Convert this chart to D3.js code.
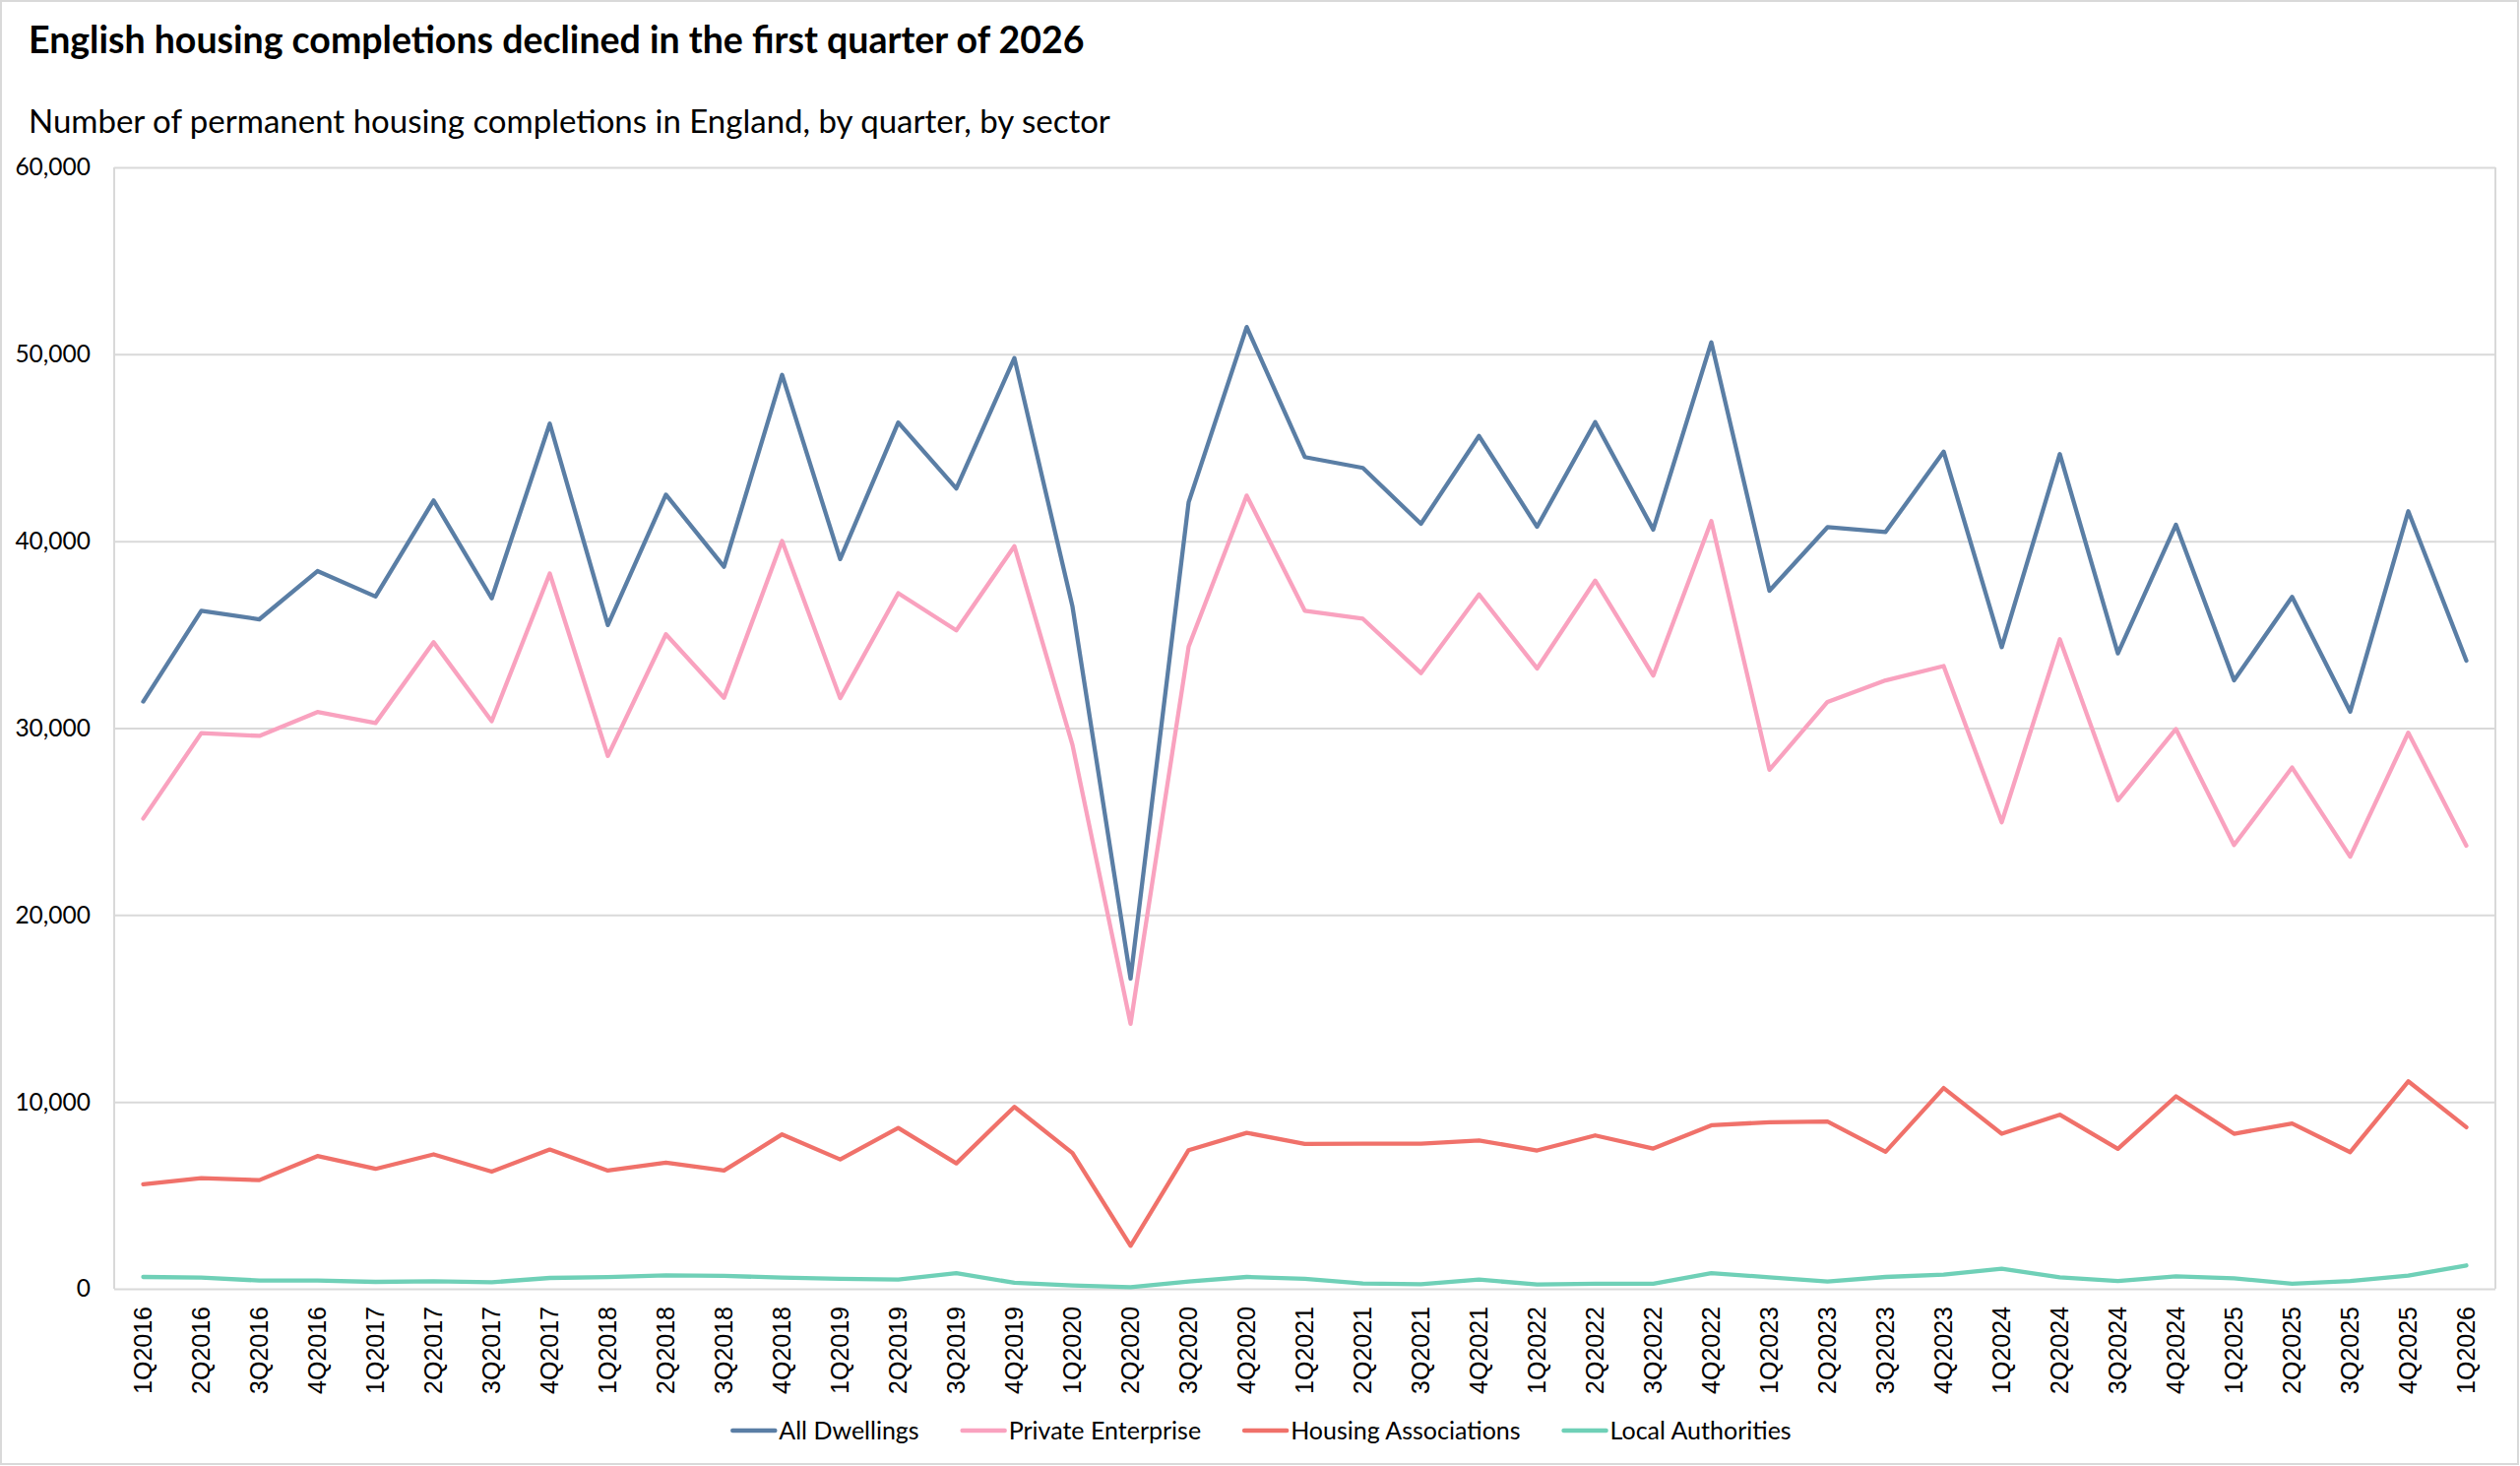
<!DOCTYPE html>
<html>
<head>
<meta charset="utf-8">
<script src="https://cdn.jsdelivr.net/npm/d3@7"></script>
<style>
  body { margin: 0; background: #fff; }
  text { font-family: Lato, "Noto Sans", sans-serif; fill: #000; }
  .x-axis text { font-family: "Liberation Sans", Arial, sans-serif; }
</style>
</head>
<body>
<div class="chart"></div>
<script>
// quarters on the x axis
var quarters = [
  "1Q2016", "2Q2016", "3Q2016", "4Q2016",
  "1Q2017", "2Q2017", "3Q2017", "4Q2017",
  "1Q2018", "2Q2018", "3Q2018", "4Q2018",
  "1Q2019", "2Q2019", "3Q2019", "4Q2019",
  "1Q2020", "2Q2020", "3Q2020", "4Q2020",
  "1Q2021", "2Q2021", "3Q2021", "4Q2021",
  "1Q2022", "2Q2022", "3Q2022", "4Q2022",
  "1Q2023", "2Q2023", "3Q2023", "4Q2023",
  "1Q2024", "2Q2024", "3Q2024", "4Q2024",
  "1Q2025", "2Q2025", "3Q2025", "4Q2025",
  "1Q2026"
];

var allDwellings = [
  31420, 36280, 35820, 38400,
  37040, 42180, 36940, 46290,
  35510, 42490, 38630, 48900,
  39040, 46350, 42820, 49800,
  36500, 16600, 42080, 51460,
  44500, 43920, 40930, 45630,
  40770, 46370, 40620, 50640,
  37350, 40750, 40490, 44790,
  34330, 44660, 34000, 40880,
  32550, 37020, 30880, 41600,
  33610
];

var privateEnterprise = [
  25160, 29730, 29580, 30860,
  30270, 34590, 30370, 38270,
  28510, 35020, 31620, 40010,
  31600, 37220, 35230, 39730,
  29100, 14180, 34360, 42440,
  36280, 35850, 32940, 37150,
  33190, 37890, 32810, 41080,
  27770, 31400, 32550, 33320,
  24960, 34750, 26140, 29950,
  23740, 27890, 23120, 29750,
  23710
];

var housingAssociations = [
  5590, 5920, 5815, 7100,
  6415, 7190, 6270, 7450,
  6325, 6750, 6325, 8260,
  6920, 8610, 6710, 9735,
  7260, 2300, 7415, 8345,
  7750, 7765, 7765, 7940,
  7400, 8205, 7505, 8750,
  8910, 8945, 7330, 10740,
  8295, 9315, 7485, 10300,
  8295, 8840, 7310, 11100,
  8645
];

var localAuthorities = [
  633, 600, 440, 440,
  370, 400, 350, 580,
  630, 720, 690, 600,
  530, 490, 840, 320,
  175, 90, 390, 633,
  530, 280, 245, 490,
  230, 265, 265, 840,
  615, 390, 633, 755,
  1070, 615, 420, 670,
  560, 265, 420, 700,
  1250
];

var seriesNames = ["All Dwellings", "Private Enterprise", "Housing Associations", "Local Authorities"];
var seriesColors = ["#5A7EA5", "#F9A2BF", "#F0716A", "#6FD0B7"];
var yTicks = [0, 10000, 20000, 30000, 40000, 50000, 60000];

var titleText = "English housing completions declined in the first quarter of 2026";
var subtitleText = "Number of permanent housing completions in England, by quarter, by sector";

var svgWidth = 2560;
var svgHeight = 1489;

var margin = {
  top: 170,
  right: 25,
  bottom: 180,
  left: 116
};

var width = svgWidth - margin.left - margin.right;
var height = svgHeight - margin.top - margin.bottom;

var series = [allDwellings, privateEnterprise, housingAssociations, localAuthorities];

var svg = d3
  .select(".chart")
  .append("svg")
  .attr("width", svgWidth)
  .attr("height", svgHeight);

// outer frame
svg.append("rect")
  .attr("x", 1)
  .attr("y", 1)
  .attr("width", svgWidth - 3)
  .attr("height", svgHeight - 3)
  .attr("fill", "#fff")
  .attr("stroke", "#d9d9d9")
  .attr("stroke-width", 2);

// titles
svg.append("text")
  .attr("x", 29)
  .attr("y", 54)
  .attr("font-size", 37.5)
  .attr("font-weight", 700)
  .text(titleText);

svg.append("text")
  .attr("x", 29)
  .attr("y", 135)
  .attr("font-size", 33)
  .text(subtitleText);

var chartGroup = svg.append("g")
  .attr("transform", `translate(${margin.left}, ${margin.top})`);

// scales
var xScale = d3.scaleBand()
  .domain(quarters)
  .range([0, width]);

var yScale = d3.scaleLinear()
  .domain([0, 60000])
  .range([height, 0]);

var xCenter = d => xScale(d) + xScale.bandwidth() / 2;

// gridlines
chartGroup.append("g")
  .attr("class", "grid")
  .call(d3.axisLeft(yScale).tickValues(yTicks).tickSize(-width).tickFormat(""))
  .call(g => g.select(".domain").remove())
  .call(g => g.selectAll("line").attr("stroke", "#d9d9d9").attr("stroke-width", 2));

// plot frame sides
chartGroup.append("line")
  .attr("x1", 0).attr("x2", 0)
  .attr("y1", 0).attr("y2", height)
  .attr("stroke", "#d9d9d9")
  .attr("stroke-width", 2);

chartGroup.append("line")
  .attr("x1", width).attr("x2", width)
  .attr("y1", 0).attr("y2", height)
  .attr("stroke", "#d9d9d9")
  .attr("stroke-width", 2);

// y axis labels
chartGroup.append("g")
  .call(d3.axisLeft(yScale).tickValues(yTicks).tickSize(0).tickPadding(24).tickFormat(d3.format(",")))
  .call(g => g.select(".domain").remove())
  .call(g => g.selectAll("text")
    .attr("font-size", 24.5)
    .attr("font-family", "Lato")
    .attr("fill", "#000"));

// x axis labels, rotated
chartGroup.append("g")
  .attr("class", "x-axis")
  .attr("transform", `translate(0, ${height})`)
  .call(d3.axisBottom(xScale).tickSize(0))
  .call(g => g.select(".domain").remove())
  .call(g => g.selectAll("text")
    .attr("font-size", 25)
    .attr("font-family", "Liberation Sans, Arial, sans-serif")
    .attr("fill", "#000")
    .attr("text-anchor", "end")
    .attr("y", 0)
    .attr("x", -18)
    .attr("dy", "0.35em")
    .attr("transform", "rotate(-90)"));

// lines
var line = d3.line()
  .x((d, i) => xCenter(quarters[i]))
  .y(d => yScale(d));

series.forEach(function(values, i) {
  chartGroup.append("path")
    .datum(values)
    .attr("fill", "none")
    .attr("stroke", seriesColors[i])
    .attr("stroke-width", 4.3)
    .attr("stroke-linejoin", "round")
    .attr("stroke-linecap", "round")
    .attr("d", line);
});

// legend
var legend = svg.append("g")
  .attr("transform", `translate(0, 1453)`);

var lineLen = 43;
var cursor = 0;
seriesNames.forEach(function(name, i) {
  var item = legend.append("g");
  item.append("line")
    .attr("x1", 0).attr("x2", lineLen)
    .attr("y1", 0).attr("y2", 0)
    .attr("stroke", seriesColors[i])
    .attr("stroke-width", 4.5)
    .attr("stroke-linecap", "round");
  var t = item.append("text")
    .attr("x", lineLen + 4)
    .attr("dy", "0.35em")
    .attr("font-size", 25)
    .text(name);
  var w = lineLen + 4 + t.node().getComputedTextLength();
  item.attr("transform", `translate(${cursor}, 0)`);
  cursor += w + 44;
});
var total = cursor - 44;
legend.attr("transform", `translate(${1282 - total / 2}, 1453)`);
</script>
</body>
</html>
